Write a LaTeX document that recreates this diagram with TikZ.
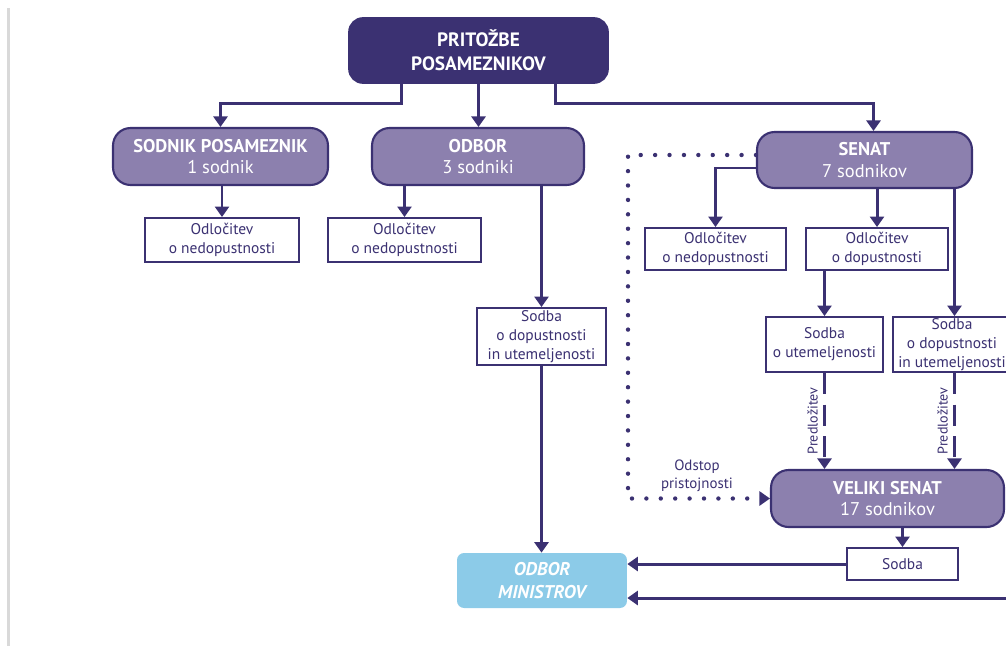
\documentclass[tikz,border=0pt]{standalone}
\usepackage{fontspec}
\setmainfont{PT Sans}
\usetikzlibrary{arrows.meta,calc}
\definecolor{ink}{HTML}{3B3172}
\definecolor{lilac}{HTML}{8C80AE}
\definecolor{sky}{HTML}{8CCBE8}
\begin{document}
\begin{tikzpicture}[x=0.02cm,y=-0.02cm,
    conn/.style={ink,line width=1.7pt,-{Triangle[width=8pt,length=6pt]}},
    dashconn/.style={conn,dash pattern=on 12pt off 6pt},
    dotconn/.style={ink,line width=2.5pt,line cap=round,dash pattern=on 0pt off 8.2pt,
        -{Triangle[width=8pt,length=6pt]}},
    head/.style={draw=ink,fill=ink,text=white,rounded corners=8pt,line width=1pt,
        align=center,inner sep=0pt,font=\bfseries\fontsize{11}{13.5}\selectfont},
    court/.style={draw=ink,fill=lilac,text=white,rounded corners=10pt,line width=1.2pt,
        align=center,inner sep=0pt,font=\fontsize{10.5}{12.5}\selectfont},
    ruling/.style={draw=ink,fill=white,text=ink,line width=1.1pt,align=center,
        inner sep=0pt,font=\fontsize{8.8}{10.8}\selectfont},
    note/.style={text=ink,align=center,font=\fontsize{8}{9.5}\selectfont}
    ]
    \clip (0,0) rectangle (1006,646);
    %% Margin rule
    \draw[black!15,line width=1.2pt] (8.5,8) -- (8.5,646);
    %% Courts
    \node[head,minimum width=5.18cm,minimum height=1.3cm]
        (top) at (478.5,50.5) {PRITOŽBE\\POSAMEZNIKOV};
    \node[court,minimum width=4.3cm,minimum height=1.14cm]
        (sodnik) at (220.5,156.5) {\textbf{SODNIK POSAMEZNIK}\\1 sodnik};
    \node[court,minimum width=4.24cm,minimum height=1.14cm]
        (odbor) at (478,156.5) {\textbf{ODBOR}\\3 sodniki};
    \node[court,minimum width=4.3cm,minimum height=1.12cm]
        (senat) at (864.5,160) {\textbf{SENAT}\\7 sodnikov};
    \node[court,minimum width=4.66cm,minimum height=1.14cm]
        (veliki) at (887.5,498.5) {\textbf{VELIKI SENAT}\\17 sodnikov};
    \node[fill=sky,text=white,rounded corners=4pt,align=center,inner sep=0pt,
        minimum width=3.4cm,minimum height=1.1cm,
        font=\bfseries\itshape\fontsize{10.5}{13}\selectfont]
        (minister) at (542,580.5) {ODBOR\\MINISTROV};
    %% Rulings
    \node[ruling,minimum width=3.08cm,minimum height=0.88cm]
        (ned1) at (222,240) {Odločitev\\o nedopustnosti};
    \node[ruling,minimum width=3.06cm,minimum height=0.88cm]
        (ned2) at (404.5,240) {Odločitev\\o nedopustnosti};
    \node[ruling,minimum width=2.82cm,minimum height=0.84cm]
        (ned3) at (715.5,249) {Odločitev\\o nedopustnosti};
    \node[ruling,minimum width=2.84cm,minimum height=0.84cm]
        (dop) at (877,249) {Odločitev\\o dopustnosti};
    \node[ruling,minimum width=2.58cm,minimum height=1.14cm]
        (sodba1) at (541.5,336.5) {Sodba\\o dopustnosti\\in utemeljenosti};
    \node[ruling,minimum width=2.34cm,minimum height=1.1cm]
        (utem) at (824.5,344.5) {Sodba\\o utemeljenosti};
    \node[ruling,minimum width=2.36cm,minimum height=1.1cm]
        (dopute) at (952,344.5) {Sodba\\o dopustnosti\\in utemeljenosti};
    \node[ruling,minimum width=2.22cm,minimum height=0.64cm]
        (sodba2) at (902.5,564) {Sodba};
    %% Helper points
    \coordinate (s3) at ($(senat.south)+(90,0)$);
    \coordinate (odstop) at (628,0);
    \coordinate (redge) at (1010,598);
    %% Arrows from the top
    \draw[conn] ($(top.south)+(-77,0)$) -- +(0,20) -| (sodnik.north);
    \draw[conn] (top.south) -- (top.south |- odbor.north);
    \draw[conn] ($(top.south)+(77,0)$) -- +(0,20) -| ($(senat.north)+(9,0)$);
    %% Single judge and committee
    \draw[conn] (ned1.north |- sodnik.south) -- (ned1.north);
    \draw[conn] (ned2.north |- odbor.south) -- (ned2.north);
    \draw[conn] (sodba1.north |- odbor.south) -- (sodba1.north);
    \draw[conn] (sodba1.south) -- (sodba1.south |- minister.north);
    %% Chamber
    \draw[conn] ($(senat.west)+(0,8)$) -| (ned3.north);
    \draw[conn] (dop.north |- senat.south) -- (dop.north);
    \draw[conn] (s3) -- (s3 |- dopute.north);
    \draw[conn] (utem.north |- dop.south) -- (utem.north);
    \draw[dashconn] (utem.south) -- (utem.south |- veliki.north)
        node[midway,rotate=90,anchor=south,inner sep=3pt,note] {Predložitev};
    \draw[dashconn] (s3 |- dopute.south) -- (s3 |- veliki.north)
        node[midway,rotate=90,anchor=south,inner sep=3pt,note] {Predložitev};
    \draw[dotconn] ($(senat.west)+(0,-5)$) -| (odstop |- veliki.west) -- (veliki.west);
    \node[note,font=\fontsize{8.5}{10.5}\selectfont] (odstoplbl) at (697,476) {Odstop\\pristojnosti};
    %% Grand chamber
    \draw[conn] (sodba2.north |- veliki.south) -- (sodba2.north);
    \draw[conn] (sodba2.west) -- (sodba2.west -| minister.east);
    \draw[conn] (redge) -- (redge -| minister.east);
\end{tikzpicture}
\end{document}
